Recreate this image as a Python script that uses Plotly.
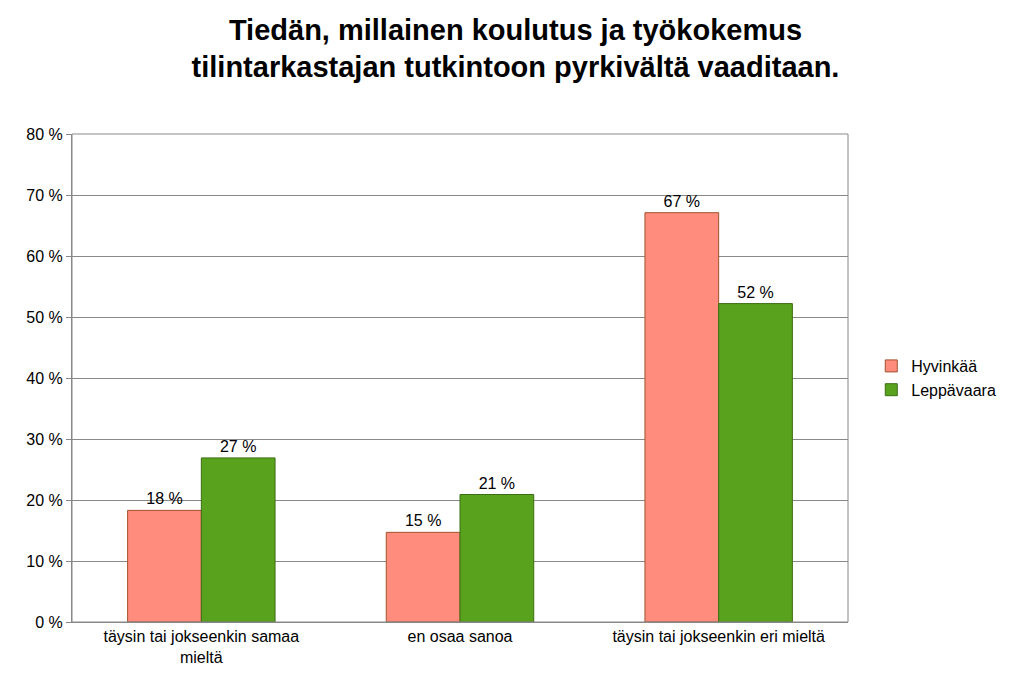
import plotly.graph_objects as go

categories = ["täysin tai jokseenkin samaa<br>mieltä", "en osaa sanoa", "täysin tai jokseenkin eri mieltä"]
hyvinkaa = [18.3, 14.7, 67.1]
leppavaara = [26.9, 20.9, 52.2]
hyv_labels = ["18 %", "15 %", "67 %"]
lep_labels = ["27 %", "21 %", "52 %"]

fig = go.Figure()
fig.add_bar(x=categories, y=hyvinkaa, name="Hyvinkää", text=hyv_labels, textposition="outside",
            marker=dict(color="#FF8C7C", line=dict(color="#A0522D", width=1)), cliponaxis=False)
fig.add_bar(x=categories, y=leppavaara, name="Leppävaara", text=lep_labels, textposition="outside",
            marker=dict(color="#58A21E", line=dict(color="#3C6E14", width=1)), cliponaxis=False)

fig.update_layout(
    width=1015, height=700,
    paper_bgcolor="white", plot_bgcolor="white",
    font=dict(family="Liberation Sans, Arial", size=15, color="black"),
    title=dict(text="<b>Tiedän, millainen koulutus ja työkokemus<br>tilintarkastajan tutkintoon pyrkivältä vaaditaan.</b>",
               x=0.5, xanchor="center", y=0.955, yanchor="top", font=dict(size=29), automargin=False),
    margin=dict(l=64, r=175, t=126, b=86),
    barmode="group", bargap=0.43, bargroupgap=0,
    legend=dict(x=1.03, y=0.5, yanchor="middle", font=dict(size=16), tracegroupgap=10),
    showlegend=True,
)
fig.update_traces(textfont=dict(size=16))
fig.update_yaxes(range=[0, 80], dtick=10, ticksuffix=" %", showgrid=True, gridcolor="#888888",
                 showline=True, linecolor="#888888", ticks="outside", ticklen=5, tickcolor="#888888",
                 tickfont=dict(size=16), zeroline=False)
fig.update_xaxes(showline=True, linecolor="#888888", tickfont=dict(size=16), mirror=False)
fig.add_shape(type="rect", xref="paper", yref="paper", x0=0, x1=1, y0=0, y1=1,
              line=dict(color="#888888", width=1))
fig.write_html("out.html")
